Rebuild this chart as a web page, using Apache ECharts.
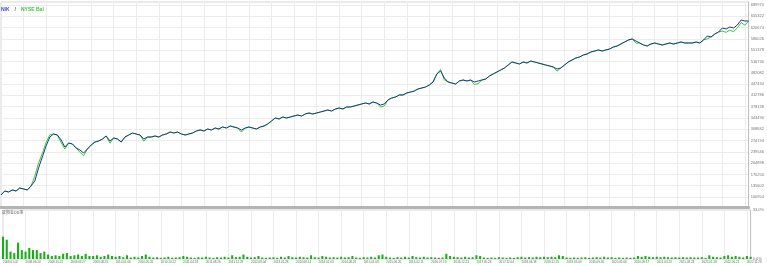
<!DOCTYPE html>
<html>
<head>
<meta charset="utf-8">
<script src="https://cdn.jsdelivr.net/npm/echarts@6/dist/echarts.min.js"></script>
<style>
html,body{margin:0;padding:0;background:#fff;}
#chart{width:767px;height:266px;}
</style>
</head>
<body>
<div id="chart"></div>
<script>
const xTickLabels = ['2008.01.02','2008.06.10','2008.10.22','2009.03.27','2009.08.31','2010.01.06','2010.05.26','2010.10.22','2011.04.18','2011.08.26','2011.12.29','2012.08.04','2013.01.28','2013.08.14','2014.02.03','2014.08.26','2015.01.08','2015.06.26','2016.02.11','2016.07.19','2016.12.23','2017.05.26','2017.12.04','2018.06.18','2018.12.25','2019.05.09','2019.09.30','2020.05.06','2020.09.17','2021.03.23','2021.08.23','2022.01.18','2022.06.21','2022.11.28'];
const POINTS_PER_TICK = 6;
const yTickLabels = [100954,135602,170250,204898,239546,274194,308842,343490,378138,412786,447434,482082,516730,551378,586026,620674,655322,689970];
const ddTickLabels = [0,33];

const balance = [
107090,119360,116290,122430,119360,128560,125500,122430,134700,150040,
189920,223670,257410,285020,294220,291160,275820,254340,266610,263550,
251280,245140,235940,248210,260480,269680,272750,278890,288090,272750,
281950,278890,269680,285020,291160,297290,294220,291160,278890,285020,
285020,288090,285020,291160,294220,300360,297290,300360,294220,291160,
294220,297290,303430,306500,303430,309560,306500,312630,309560,315700,
312630,318770,315700,312630,306500,312630,315700,312630,309560,315700,
318770,324900,334110,343310,340240,346380,343310,346380,349450,352510,
349450,355580,358650,355580,358650,361720,364780,367850,364780,370920,
373990,370920,377060,377060,380120,383190,386260,389330,386260,392390,
389330,383190,386260,398530,404670,407730,413870,413870,420000,423070,
426140,432280,435340,438410,444550,453750,478290,487500,466020,453750,
450680,447610,456820,459890,456820,459890,453750,456820,459890,462950,
472160,478290,484430,490560,496700,505900,515110,512040,508970,515110,
512040,518170,515110,512040,508970,505900,502840,499770,493630,496700,
505900,515110,521240,527380,530450,536580,539650,545780,548850,551920,
548850,551920,554990,561120,564190,570330,576460,582600,585670,579530,
573390,567260,564190,570330,573390,570330,567260,570330,573390,570330,
573390,576460,573390,573390,573390,576460,573390,582600,594870,591800,
601000,607140,619410,616340,622480,619410,628610,643950,640890,640890
];

const equity = [
107090,119360,116290,122430,119360,128560,125500,122430,134700,165000,
205000,235000,268000,292000,294220,291160,268000,248000,266610,263550,
251280,238000,228000,248210,260480,269680,272750,278890,288090,266000,
281950,278890,269680,285020,291160,297290,294220,291160,272000,285020,
285020,288090,285020,291160,294220,300360,297290,300360,294220,291160,
294220,297290,303430,306500,303430,309560,306500,312630,309560,315700,
312630,318770,315700,312630,300000,312630,315700,312630,309560,315700,
318770,324900,334110,343310,340240,346380,343310,346380,349450,352510,
349450,355580,358650,355580,358650,361720,364780,367850,364780,370920,
373990,370920,377060,377060,380120,383190,386260,389330,386260,392390,
389330,377000,380000,398530,404670,407730,413870,413870,420000,423070,
426140,432280,435340,438410,444550,453750,478290,492000,460000,453750,
450680,447610,456820,459890,456820,459890,446000,449000,459890,462950,
472160,478290,484430,490560,496700,505900,515110,512040,508970,515110,
512040,518170,515110,512040,508970,505900,502840,499770,487000,496700,
505900,515110,521240,527380,530450,536580,539650,545780,548850,551920,
548850,551920,554990,561120,564190,570330,576460,582600,585670,573000,
573390,567260,564190,570330,573390,570330,567260,570330,573390,570330,
573390,576460,573390,573390,573390,576460,573390,582600,586000,591800,
601000,607140,610000,606000,613000,608000,620000,636000,628000,640890
];

const ddPercent = [
15,13,5,4,11,6,5,7.5,6,6,
4,5,3,2,2.5,2,3.5,4,2,2.5,
3,2,3.5,2,2,2.5,1.5,2,3,2,
1.5,2,1.2,2.5,1,1.5,1,2,3,1.5,
1,1.2,0.8,1,1.5,0.8,1,1.2,2,1.5,
1,0.8,1.2,1,1.5,1,0.8,1.2,1,1.5,
1,2.5,1.2,1.5,3,1.5,1,1.2,2,1,
0.8,1,1.2,0.8,1.5,1,2,1.2,1,1.5,
1.2,1,2.5,1.2,1,2,1.5,1,1.2,1,
1.5,1,1.2,2,1,0.8,1.2,1,1.5,1,
2.5,3,1.5,1,0.8,1.2,1,1.5,1,2,
1.2,1,1.5,1,1.2,1,0.8,1,3.5,2,
1.5,1.2,1,1.5,1,1.2,2.5,2,1,0.8,
1,0.8,1.2,1,0.8,1,0.8,1.2,1.5,1,
1.2,1,1.5,1.2,1.5,1.2,1.5,1.2,2.5,2,
1,0.8,1,0.8,1,1.2,0.8,1,1.2,1,
1.5,1,1.2,0.8,1,0.8,1,0.8,1,2,
1.5,2,1.5,1.2,1.5,1.2,1.5,1.2,1,1.2,
1,1.2,1,1.2,1,1,1.2,0.8,2.5,1.5,
1.2,1,2,2.5,1.5,2,1.5,1,2,1.5
];

const categories = balance.map((_, i) => i);
const tickLabelAt = (idx) => (idx % POINTS_PER_TICK === 0 ? (xTickLabels[idx / POINTS_PER_TICK] || '') : '');

const FONT = 'Liberation Sans';
const gridColor = '#ececec';

const chart = echarts.init(document.getElementById('chart'), null, { renderer: 'canvas' });
chart.setOption({
  animation: false,
  backgroundColor: '#ffffff',
  title: [
    {
      text: '{a|NIK} {s|/} {b|NYSE Bal}',
      left: 1, top: 1, padding: 0,
      textStyle: {
        rich: {
          a: { color: '#3b4fc4', fontSize: 5, fontFamily: FONT },
          s: { color: '#666', fontSize: 5, fontFamily: FONT },
          b: { color: '#3cc43c', fontSize: 5, fontFamily: FONT }
        }
      }
    },
    {
      text: '証拠金DD率',
      left: 2, top: 210, padding: 0,
      textStyle: { color: '#666', fontSize: 4, fontWeight: 'normal', fontFamily: 'Noto Sans CJK JP' }
    }
  ],
  grid: [
    { left: 1, right: 16, top: 2, height: 205, show: true, borderColor: '#d4d4d4', borderWidth: 1, backgroundColor: 'transparent' },
    { left: 1, right: 16, top: 210, height: 49, show: true, borderColor: '#d4d4d4', borderWidth: 1, backgroundColor: 'transparent' }
  ],
  xAxis: [
    {
      type: 'category', gridIndex: 0, data: categories, boundaryGap: false,
      axisLine: { show: true, lineStyle: { color: '#b4b4b4', width: 3 } },
      axisTick: { show: false },
      axisLabel: { show: false },
      splitLine: { show: true, interval: POINTS_PER_TICK - 1, lineStyle: { color: gridColor, width: 1 } }
    },
    {
      type: 'category', gridIndex: 1, data: categories, boundaryGap: false,
      axisLine: { show: false },
      axisTick: { show: false },
      axisLabel: {
        show: true, interval: POINTS_PER_TICK - 1, margin: 2, align: 'left',
        fontSize: 3, color: '#666', fontFamily: FONT,
        formatter: (v, idx) => tickLabelAt(idx)
      },
      splitLine: { show: true, interval: POINTS_PER_TICK - 1, lineStyle: { color: gridColor, width: 1 } }
    }
  ],
  yAxis: [
    {
      type: 'value', gridIndex: 0, position: 'right', min: 70274, max: 699173,
      axisLine: { show: true, lineStyle: { color: '#c4c4c4', width: 1 } },
      axisTick: { show: false, customValues: yTickLabels },
      axisLabel: { show: true, customValues: yTickLabels, margin: 2, fontSize: 4, color: '#777', fontFamily: FONT, formatter: v => String(v) },
      splitLine: { show: true, lineStyle: { color: gridColor, width: 1 } }
    },
    {
      type: 'value', gridIndex: 1, position: 'right', min: 0, max: 33,
      axisLine: { show: true, lineStyle: { color: '#c4c4c4', width: 1 } },
      axisTick: { show: false, customValues: ddTickLabels },
      axisLabel: { show: true, customValues: ddTickLabels, margin: 2, fontSize: 4, color: '#777', fontFamily: FONT, formatter: v => v.toFixed(1) + '%' },
      splitLine: { show: false }
    }
  ],
  series: [
    {
      name: 'Equity', type: 'line', xAxisIndex: 0, yAxisIndex: 0, data: equity,
      showSymbol: false, symbol: 'none', lineStyle: { color: '#38c938', width: 1 }, z: 2
    },
    {
      name: 'Balance', type: 'line', xAxisIndex: 0, yAxisIndex: 0, data: balance,
      showSymbol: false, symbol: 'none', lineStyle: { color: '#1d3c86', width: 1 }, z: 3
    },
    {
      name: 'DD', type: 'bar', xAxisIndex: 1, yAxisIndex: 1, data: ddPercent,
      barCategoryGap: '45%', itemStyle: { color: '#14b014' }
    }
  ]
});
</script>
</body>
</html>
